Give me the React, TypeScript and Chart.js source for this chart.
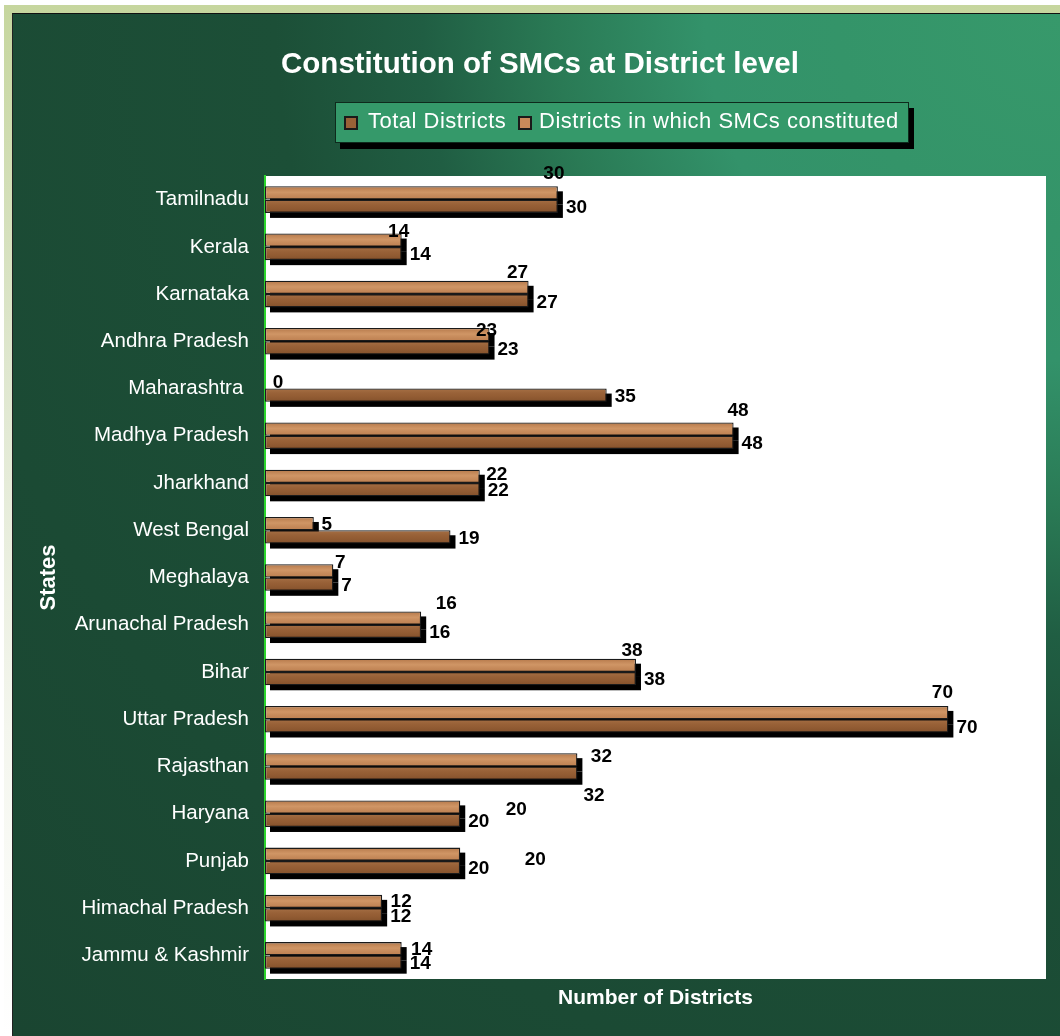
import React, { useEffect, useRef } from 'react';
import { Chart, registerables } from 'chart.js';

Chart.register(...registerables);

// ---------------- data ----------------
const states = [
  'Tamilnadu',
  'Kerala',
  'Karnataka',
  'Andhra Pradesh',
  'Maharashtra ',
  'Madhya Pradesh',
  'Jharkhand',
  'West Bengal',
  'Meghalaya',
  'Arunachal Pradesh',
  'Bihar',
  'Uttar Pradesh',
  'Rajasthan',
  'Haryana',
  'Punjab',
  'Himachal Pradesh',
  'Jammu & Kashmir',
];
const totalDistricts = [30, 14, 27, 23, 35, 48, 22, 19, 7, 16, 38, 70, 32, 20, 20, 12, 14];
const smcDistricts = [30, 14, 27, 23, 0, 48, 22, 5, 7, 16, 38, 70, 32, 20, 20, 12, 14];
const seriesNames = ['Total Districts', 'Districts in which SMCs constituted'];
const xMin = 0;
const xMax = 80;

// ---------------- style ----------------
const FONT = '"Liberation Sans", Arial, Helvetica, sans-serif';
const TOTAL_COLOR = '#996137';
const SMC_COLOR = '#c88a5a';
const BORDER = '#1a1a1a';

// manual nudges of data labels (as dragged in the original), px relative to bar end / bar centre
const smcLabelNudge: [number, number][] = [
  [-4, -21], [-3, -10], [-11, -16.5], [-3, -5], [13, -1], [4.5, -20], [17, -3], [13, 0],
  [7, -10], [25, -16], [-4, -16], [-6, -21], [24, -5], [56, 1], [75, 3.5], [19, -1], [20, -1],
];
const totalLabelNudge: [number, number][] = [
  [8, 0], [8, 0], [8, 0], [8, 0], [8, 0], [8, 0], [8, 0], [8, 0],
  [8, 0], [8, 0], [8, 0], [8, 0], [6, 21.5], [8, 0], [8, 0], [8, 0], [8, 0],
];

function barRect(el: any) {
  const p = el.getProps(['x', 'y', 'base', 'height'], true);
  const left = Math.min(p.x, p.base);
  const right = Math.max(p.x, p.base);
  return { left, right, top: p.y - p.height / 2, bottom: p.y + p.height / 2, end: p.x, cy: p.y };
}

const decorPlugin = {
  id: 'decor',
  beforeDraw(chart: any) {
    const { ctx, chartArea } = chart;
    ctx.save();
    ctx.fillStyle = '#ffffff';
    ctx.fillRect(chartArea.left, chartArea.top, chartArea.right - chartArea.left, chartArea.bottom - chartArea.top);
    ctx.restore();
  },
  beforeDatasetsDraw(chart: any) {
    const ctx = chart.ctx;
    ctx.save();
    ctx.fillStyle = '#000000';
    chart.data.datasets.forEach((_: any, di: number) => {
      const meta = chart.getDatasetMeta(di);
      meta.data.forEach((el: any) => {
        const r = barRect(el);
        if (r.right - r.left < 1) return;
        ctx.fillRect(r.left + 5, r.top + 5, r.right - r.left, r.bottom - r.top);
      });
    });
    ctx.restore();
  },
  afterDatasetsDraw(chart: any) {
    const ctx = chart.ctx;
    ctx.save();
    // subtle wood-like shading inside each bar
    chart.data.datasets.forEach((_: any, di: number) => {
      const meta = chart.getDatasetMeta(di);
      meta.data.forEach((el: any) => {
        const r = barRect(el);
        const inset = 1.3;
        const w = r.right - r.left - 2 * inset;
        const h = r.bottom - r.top - 2 * inset;
        if (w < 1 || h < 1) return;
        const g = ctx.createLinearGradient(0, r.top + inset, 0, r.bottom - inset);
        if (di === 0) {
          g.addColorStop(0, 'rgba(120,70,30,0.18)');
          g.addColorStop(0.45, 'rgba(255,220,170,0.14)');
          g.addColorStop(1, 'rgba(120,70,30,0.10)');
        } else {
          g.addColorStop(0, 'rgba(255,210,160,0.10)');
          g.addColorStop(0.5, 'rgba(90,50,20,0.06)');
          g.addColorStop(1, 'rgba(70,35,10,0.22)');
        }
        ctx.fillStyle = g;
        ctx.fillRect(r.left + inset, r.top + inset, w, h);
      });
    });

    const size = 19;
    ctx.font = `bold ${size}px ${FONT}`;
    ctx.fillStyle = '#000000';
    ctx.textBaseline = 'alphabetic';
    const shift = size * 0.358;
    const smcMeta = chart.getDatasetMeta(0);
    const totMeta = chart.getDatasetMeta(1);
    smcMeta.data.forEach((el: any, i: number) => {
      const r = barRect(el);
      const [dx, dy] = smcLabelNudge[i];
      ctx.textAlign = 'center';
      ctx.fillText(String(smcDistricts[i]), r.end + dx, r.cy + dy + shift);
    });
    totMeta.data.forEach((el: any, i: number) => {
      const r = barRect(el);
      const [dx, dy] = totalLabelNudge[i];
      ctx.textAlign = 'left';
      ctx.fillText(String(totalDistricts[i]), r.end + dx, r.cy + dy + shift);
    });
    ctx.restore();
  },
  afterDraw(chart: any) {
    const ctx = chart.ctx;
    ctx.save();
    // title
    ctx.fillStyle = '#ffffff';
    ctx.font = `bold 29.5px ${FONT}`;
    ctx.textAlign = 'center';
    ctx.textBaseline = 'alphabetic';
    ctx.fillText('Constitution of SMCs at District level', 540, 73);

    // legend box
    const bx = 335, by = 102, bw = 574, bh = 41;
    ctx.fillStyle = '#000000';
    ctx.fillRect(bx + 5, by + 6, bw, bh);
    ctx.fillStyle = '#35996a';
    ctx.fillRect(bx, by, bw, bh);
    ctx.strokeStyle = '#0e2a1c';
    ctx.lineWidth = 1;
    ctx.strokeRect(bx + 0.5, by + 0.5, bw - 1, bh - 1);

    ctx.font = `22px ${FONT}`;
    try {
      (ctx as any).letterSpacing = '0.5px';
    } catch (e) {
      /* ignore */
    }
    ctx.textAlign = 'left';
    const colors = [TOTAL_COLOR, SMC_COLOR];
    const markerX = [344, 518];
    const textX = [368, 539];
    seriesNames.forEach((name, i) => {
      ctx.fillStyle = BORDER;
      ctx.fillRect(markerX[i], 116, 14, 14);
      ctx.fillStyle = colors[i];
      ctx.fillRect(markerX[i] + 2, 118, 10, 10);
      ctx.fillStyle = '#ffffff';
      ctx.fillText(name, textX[i], 128);
    });
    ctx.restore();
  },
};

export default function App() {
  const ref = useRef<HTMLCanvasElement | null>(null);
  useEffect(() => {
    if (!ref.current) return;
    const chart = new Chart(ref.current, {
      type: 'bar',
      data: {
        labels: states,
        datasets: [
          {
            label: seriesNames[1],
            data: smcDistricts,
            backgroundColor: SMC_COLOR,
            borderColor: BORDER,
            borderWidth: 1.3,
            borderSkipped: false,
            categoryPercentage: 0.563,
            barPercentage: 1,
          },
          {
            label: seriesNames[0],
            data: totalDistricts,
            backgroundColor: TOTAL_COLOR,
            borderColor: BORDER,
            borderWidth: 1.3,
            borderSkipped: false,
            categoryPercentage: 0.563,
            barPercentage: 1,
          },
        ],
      },
      options: {
        indexAxis: 'y',
        animation: false,
        responsive: false,
        devicePixelRatio: 1,
        layout: { padding: { top: 176, right: 14, left: 0, bottom: 0 } },
        plugins: {
          legend: { display: false },
          title: { display: false },
          tooltip: { enabled: false },
        },
        scales: {
          x: {
            min: xMin,
            max: xMax,
            grid: { display: false, drawTicks: false },
            border: { display: false },
            ticks: { display: false },
            title: {
              display: true,
              text: 'Number of Districts',
              color: '#ffffff',
              font: { family: FONT, size: 21, weight: 'bold' },
              padding: { top: 0, bottom: 25 },
            },
            afterFit: (s: any) => {
              s.height = 57;
            },
          },
          y: {
            grid: { display: false, drawTicks: false },
            border: { display: true, color: '#2bd42b', width: 2 },
            ticks: {
              color: '#ffffff',
              font: { family: FONT, size: 20.5 },
              padding: 16,
            },
            title: {
              display: true,
              text: 'States',
              color: '#ffffff',
              font: { family: FONT, size: 22, weight: 'bold' },
              padding: { top: 36, bottom: 0 },
            },
            afterFit: (s: any) => {
              s.width = 265;
            },
          },
        },
      },
      plugins: [decorPlugin],
    });
    return () => chart.destroy();
  }, []);

  return (
    <div style={{ position: 'fixed', left: 0, top: 0, width: 1060, height: 1036, background: '#ffffff', overflow: 'hidden' }}>
      <div
        style={{
          position: 'absolute',
          left: 4,
          top: 5,
          right: 0,
          bottom: 0,
          background: 'linear-gradient(to bottom, #c6d69e 0%, #dfe7cf 35%, #f4f6ee 70%, #ffffff 100%)',
        }}
      />
      <div
        style={{
          position: 'absolute',
          left: 12,
          top: 13,
          right: 0,
          bottom: 0,
          boxSizing: 'border-box',
          borderTop: '1px solid #111',
          borderLeft: '1px solid #222',
          background:
            'radial-gradient(farthest-corner at 100% 0%, #37996b 0%, #349469 15%, #33926a 24%, #2a7a55 34%, #205e43 43%, #1c4f37 53%, #1a4531 100%)',
        }}
      />
      <canvas ref={ref} width={1060} height={1036} style={{ position: 'absolute', left: 0, top: 0, width: 1060, height: 1036 }} />
    </div>
  );
}
